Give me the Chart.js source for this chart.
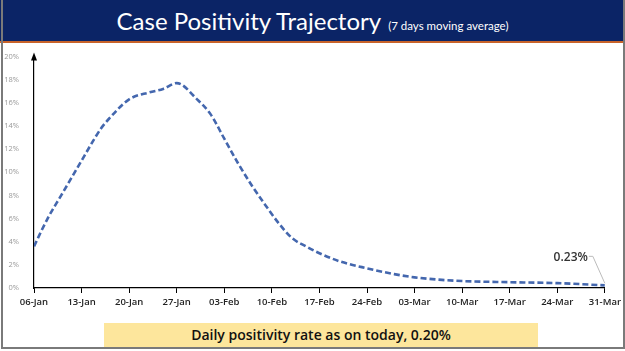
<!DOCTYPE html>
<html>
<head>
<meta charset="utf-8">
<script src="https://cdn.jsdelivr.net/npm/chart.js@4/dist/chart.umd.min.js"></script>
<style>
    html, body { margin: 0; padding: 0; background: #fff; }
    #slide { position: relative; width: 625px; height: 351px; overflow: hidden; background: #fff; }
    #frame { position: absolute; left: 1px; top: 0; width: 620px; height: 347px; border: 2px solid #7a7a7a; border-top: none; }
    #titleBar { position: absolute; left: 0; top: 0; width: 625px; height: 41px; background: #0b2466; border-bottom: 2px solid #c8632a; }
    #title { position: absolute; left: 0; top: 6px; width: 625px; text-align: center; color: #fff; font-family: Lato, sans-serif; white-space: nowrap; }
    #title .big { font-size: 24px; }
    #title .small { font-size: 11.5px; margin-left: 7px; }
    #chartBox { position: absolute; left: 0; top: 45px; width: 625px; height: 275px; }
    #note { position: absolute; left: 104px; top: 323px; width: 434px; height: 24px; background: #fde69c; text-align: center; line-height: 24px; font-family: "Open Sans", sans-serif; font-weight: 600; font-size: 14px; color: #111; }
</style>
</head>
<body>
<div id="slide">
    <div id="titleBar"></div>
    <div id="title"><span class="big">Case Positivity Trajectory</span><span class="small">(7 days moving average)</span></div>
    <div id="chartBox"><canvas id="lineChart"></canvas></div>
    <div id="note">Daily positivity rate as on today, 0.20%</div>
    <div id="frame"></div>
</div>
<script>
// Hari sejak 06-Jan dan nilai positivity (%)
const days = [0, 2, 4, 7, 9, 10, 11, 14, 17, 19, 21, 24, 26, 28, 30, 32, 34, 36, 38, 40, 42, 45, 49, 53, 56, 60, 63, 70, 77, 84];
const positivity = [3.6, 6.0, 8.0, 11.0, 13.0, 13.9, 14.6, 16.3, 16.9, 17.2, 17.7, 16.3, 15.0, 12.9, 10.8, 8.9, 7.2, 5.6, 4.3, 3.6, 3.0, 2.3, 1.7, 1.2, 0.92, 0.7, 0.6, 0.5, 0.42, 0.23];
const tickLabels = ['06-Jan', '13-Jan', '20-Jan', '27-Jan', '03-Feb', '10-Feb', '17-Feb', '24-Feb', '03-Mar', '10-Mar', '17-Mar', '24-Mar', '31-Mar'];
const lastLabel = '0.23%';

const points = days.map((d, i) => ({ x: d, y: positivity[i] }));

// Panah sumbu Y dan label nilai terakhir
const extras = {
    id: 'extras',
    afterDraw(chart) {
        const ctx = chart.ctx;
        const area = chart.chartArea;
        const xs = chart.scales.x, ys = chart.scales.y;
        ctx.save();
        // panah
        ctx.fillStyle = '#000';
        ctx.beginPath();
        ctx.moveTo(area.left, area.top - 4);
        ctx.lineTo(area.left - 3, area.top + 4);
        ctx.lineTo(area.left + 3, area.top + 4);
        ctx.closePath();
        ctx.fill();
        // label terakhir
        const px = xs.getPixelForValue(days[days.length - 1]);
        const py = ys.getPixelForValue(positivity[positivity.length - 1]);
        ctx.strokeStyle = '#bbb';
        ctx.lineWidth = 1;
        ctx.beginPath();
        ctx.moveTo(px, py - 2);
        ctx.lineTo(px - 12, py - 29);
        ctx.lineTo(px - 16, py - 29);
        ctx.stroke();
        ctx.fillStyle = '#333';
        ctx.font = '600 12px "Open Sans"';
        ctx.textAlign = 'right';
        ctx.textBaseline = 'middle';
        ctx.fillText(lastLabel, px - 17, py - 28);
        ctx.restore();
    }
};

const ctx = document.getElementById('lineChart').getContext('2d');
const lineChart = new Chart(ctx, {
    type: 'line',
    data: {
        datasets: [{
            label: 'Positivity',
            data: points,
            borderColor: '#4467ae',
            borderWidth: 2.6,
            borderDash: [6, 3],
            pointRadius: 0,
            tension: 0.3,
            cubicInterpolationMode: 'monotone',
            fill: false
        }]
    },
    options: {
        responsive: true,
        maintainAspectRatio: false,
        animation: false,
        layout: { padding: { top: 7, right: 20, left: 0, bottom: 0 } },
        plugins: {
            legend: { display: false },
            tooltip: { enabled: false }
        },
        scales: {
            x: {
                type: 'linear',
                min: 0,
                max: 84,
                afterFit: s => { s.height = 32; },
                afterBuildTicks: s => { s.ticks = tickLabels.map((t, i) => ({ value: i * 7 })); },
                ticks: {
                    autoSkip: false,
                    maxRotation: 0,
                    padding: 4,
                    color: '#222',
                    font: { family: 'Open Sans', size: 9.5, weight: '600' },
                    callback: (v) => tickLabels[Math.round(v / 7)]
                },
                grid: { drawOnChartArea: false, drawTicks: true, tickLength: 5, color: '#000' },
                border: { display: true, color: '#000', width: 1.2 }
            },
            y: {
                min: 0,
                max: 20,
                afterFit: s => { s.width = 34; },
                ticks: {
                    stepSize: 2,
                    padding: 7,
                    color: '#999',
                    font: { family: 'Open Sans', size: 7.5 },
                    callback: v => v + '%'
                },
                grid: { display: false },
                border: { display: true, color: '#000', width: 1.2 }
            }
        }
    },
    plugins: [extras]
});
</script>
</body>
</html>
